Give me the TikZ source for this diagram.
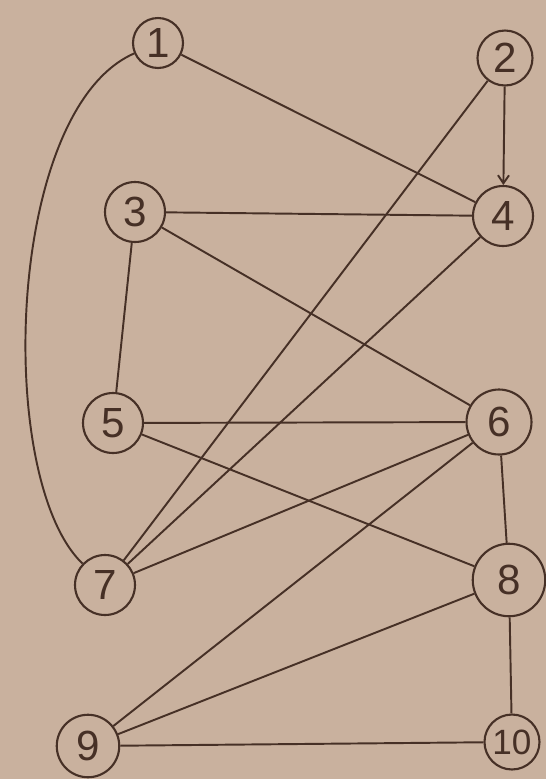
\documentclass[tikz,border=0pt]{standalone}
\usepackage{fontspec}
\setmainfont{Liberation Sans}
\usetikzlibrary{arrows.meta}
\definecolor{paper}{RGB}{201,177,158}
\definecolor{pencil}{RGB}{70,48,38}
\tikzset{
  vertex/.style={circle, draw=pencil, line width=1.2pt, minimum size=1.15cm, inner sep=0pt, text=pencil, font=\fontsize{24}{24}\selectfont},
  edge/.style={draw=pencil, line width=1.1pt},
  arc/.style={edge, -{Straight Barb[length=1.6mm, width=2.2mm]}}
}
\begin{document}
\begin{tikzpicture}[x=0.02cm,y=-0.02cm]
  \fill[paper] (0,0) rectangle (546,779);
  \useasboundingbox (0,0) rectangle (546,779);

  % vertices
  \node[vertex, minimum size=1.0cm] (v1) at (158,43) {1};
  \node[vertex, minimum size=1.1cm] (v2) at (505,58) {2};
  \node[vertex, minimum size=1.2cm] (v3) at (135,212) {3};
  \node[vertex, minimum size=1.2cm] (v4) at (503,216) {4};
  \node[vertex, minimum size=1.2cm] (v5) at (113,423) {5};
  \node[vertex, minimum size=1.3cm] (v6) at (499,422) {6};
  \node[vertex, minimum size=1.2cm] (v7) at (105,585) {7};
  \node[vertex, minimum size=1.45cm] (v8) at (509,580) {8};
  \node[vertex, minimum size=1.25cm] (v9) at (88,746) {9};
  \node[vertex, minimum size=1.1cm, font=\fontsize{20}{20}\selectfont] (v10) at (512,742) {10};

  % edges
  \draw[edge] (v1) .. controls (5,110) and (-5,480) .. (v7);
  \draw[edge] (v1) -- (v4);
  \draw[arc] (v2) -- (v4);
  \draw[edge] (v2) -- (v7);
  \draw[edge] (v3) -- (v4);
  \draw[edge] (v3) -- (v5);
  \draw[edge] (v3) -- (v6);
  \draw[edge] (v4) -- (v7);
  \draw[edge] (v5) -- (v6);
  \draw[edge] (v5) -- (v8);
  \draw[edge] (v6) -- (v7);
  \draw[edge] (v6) -- (v8);
  \draw[edge] (v6) -- (v9);
  \draw[edge] (v8) -- (v9);
  \draw[edge] (v8) -- (v10);
  \draw[edge] (v9) -- (v10);
\end{tikzpicture}
\end{document}
